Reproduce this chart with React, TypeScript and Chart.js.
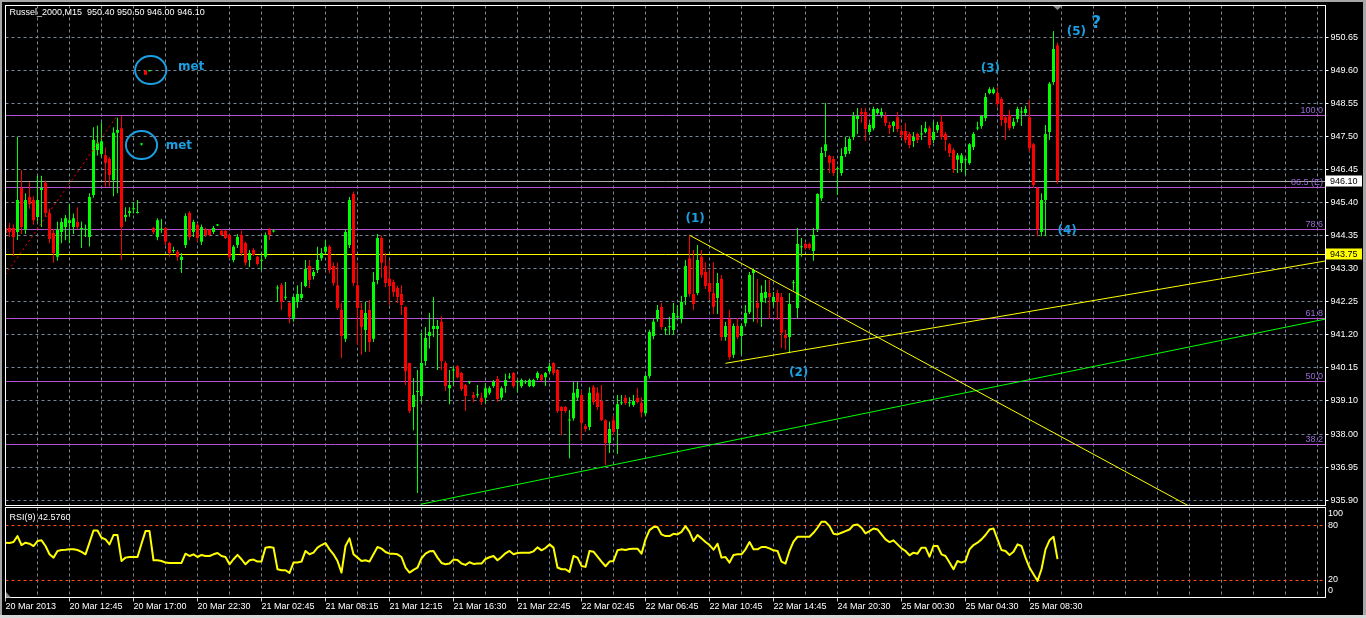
import React, { useEffect, useRef } from "react";
import { Chart, registerables } from "chart.js";

Chart.register(...registerables);

// ---------------- data ----------------
const SYMBOL = "Russel_2000,M15";

const TIME_LABELS = [
  "20 Mar 2013", "20 Mar 12:45", "20 Mar 17:00", "20 Mar 22:30", "21 Mar 02:45",
  "21 Mar 08:15", "21 Mar 12:15", "21 Mar 16:30", "21 Mar 22:45", "22 Mar 02:45",
  "22 Mar 06:45", "22 Mar 10:45", "22 Mar 14:45", "24 Mar 20:30", "25 Mar 00:30",
  "25 Mar 04:30", "25 Mar 08:30",
];

const OPEN = [
  944.59, 944.59, 944.59, 944.46, 945.86, 944.53, 945.58, 945.48, 944.94, 945.80,
  946.02, 945.07, 944.43, 943.67, 944.46, 944.62, 944.75, 944.62, 944.78, 944.56,
  944.53, 944.30, 945.64, 947.07, 946.95, 946.91, 946.79, 946.12, 947.62, 947.77,
  944.94, 945.07, 945.19, 945.07, 947.25, 949.60, 949.58, 944.59, 944.30, 944.53,
  944.59, 944.11, 943.86, 943.83, 943.57, 944.05, 945.07, 944.46, 944.69, 944.15,
  944.53, 944.53, 944.46, 944.67, 944.50, 944.50, 944.37, 943.57, 944.05, 944.37,
  944.11, 943.57, 943.89, 943.67, 943.55, 943.67, 944.53, 944.48, 942.66, 942.77,
  942.37, 942.20, 941.69, 942.23, 942.36, 942.74, 943.38, 943.06, 943.25, 943.63,
  943.83, 943.99, 943.38, 942.77, 941.98, 941.06, 944.05, 945.67, 942.77, 941.98,
  941.34, 941.98, 941.06, 942.93, 944.27, 943.38, 942.97, 942.87, 942.68, 942.49,
  942.07, 940.29, 938.89, 939.37, 939.24, 940.35, 941.15, 941.37, 941.37, 941.60,
  940.29, 939.49, 940.05, 940.19, 939.97, 939.59, 939.67, 939.27, 939.26, 939.18,
  939.18, 939.34, 939.56, 939.78, 939.18, 939.56, 939.83, 939.97, 939.68, 939.56,
  939.68, 939.56, 939.56, 939.81, 939.91, 939.84, 940.03, 940.29, 940.07, 938.89,
  938.89, 938.46, 938.53, 939.18, 939.27, 938.28, 938.25, 939.52, 939.34, 939.08,
  938.47, 937.74, 938.47, 938.19, 939.01, 939.18, 939.01, 938.95, 939.18, 939.02,
  938.69, 939.88, 941.15, 941.69, 942.07, 941.33, 941.43, 941.34, 941.75, 941.69,
  942.39, 943.63, 942.49, 942.52, 943.67, 943.19, 942.84, 942.52, 942.36, 942.97,
  941.12, 941.69, 940.55, 941.47, 941.15, 941.56, 941.91, 943.16, 942.20, 942.23,
  942.36, 942.52, 942.23, 942.52, 942.39, 941.18, 941.12, 942.83, 942.04, 943.98,
  944.08, 944.08, 943.86, 944.56, 945.54, 947.04, 946.88, 946.79, 946.46, 946.34,
  946.94, 947.04, 947.49, 948.06, 948.28, 948.28, 947.65, 947.77, 948.25, 948.19,
  948.16, 947.87, 947.84, 948.12, 947.68, 947.68, 947.58, 947.36, 947.58, 947.57,
  947.65, 947.77, 947.39, 947.71, 947.97, 947.58, 947.26, 947.07, 946.76, 946.66,
  946.75, 946.66, 947.17, 947.76, 947.84, 948.09, 948.89, 948.89, 948.89, 948.70,
  948.12, 948.19, 947.84, 948.06, 948.27, 948.25, 948.12, 947.26, 945.86, 944.46,
  945.48, 947.65, 949.24, 950.40,
];

const HIGH = [
  945.07, 944.75, 944.70, 947.49, 946.44, 945.70, 946.05, 945.60, 946.25, 946.25,
  946.10, 945.20, 944.55, 944.80, 944.90, 945.00, 945.35, 945.05, 945.25, 944.80,
  944.70, 945.70, 947.80, 947.85, 947.95, 947.15, 946.85, 947.80, 948.10, 948.16,
  945.25, 945.25, 945.40, 945.48, 947.30, 949.62, 949.61, 944.62, 944.90, 944.88,
  944.62, 944.15, 943.99, 943.89, 943.79, 945.05, 945.12, 944.85, 944.75, 944.70,
  944.60, 944.55, 944.65, 944.72, 944.55, 944.52, 944.40, 944.05, 944.40, 944.50,
  944.15, 943.89, 943.95, 943.70, 943.79, 944.45, 944.59, 944.53, 942.77, 942.84,
  942.87, 942.23, 942.45, 942.77, 942.87, 943.57, 943.57, 943.25, 943.99, 943.95,
  944.21, 944.05, 943.48, 943.48, 942.20, 944.55, 945.58, 945.75, 943.48, 942.20,
  942.23, 942.30, 943.19, 944.40, 944.35, 943.79, 943.57, 942.95, 942.75, 942.77,
  942.10, 940.30, 939.81, 940.07, 941.25, 941.44, 941.88, 942.39, 941.66, 941.78,
  940.35, 940.07, 940.17, 940.22, 940.00, 939.62, 939.72, 939.37, 939.59, 939.34,
  939.65, 939.55, 939.75, 939.88, 939.55, 939.95, 939.97, 940.00, 939.75, 939.80,
  939.75, 939.80, 939.78, 940.03, 939.95, 940.00, 940.29, 940.32, 940.10, 938.92,
  938.92, 938.79, 939.69, 939.69, 939.43, 938.35, 939.52, 939.59, 939.52, 939.59,
  938.50, 938.43, 938.63, 939.27, 939.27, 939.27, 939.20, 939.27, 939.49, 939.20,
  939.92, 941.35, 941.70, 942.14, 942.20, 941.44, 941.76, 942.20, 942.14, 942.43,
  943.57, 944.35, 943.89, 944.05, 943.89, 943.50, 943.25, 943.50, 943.16, 943.09,
  941.60, 941.98, 941.55, 941.72, 941.55, 942.14, 943.19, 943.30, 942.97, 942.77,
  942.93, 942.93, 942.55, 942.62, 942.52, 941.34, 942.52, 942.93, 944.59, 944.27,
  944.15, 944.12, 944.59, 945.70, 947.17, 948.57, 946.92, 946.88, 946.56, 947.13,
  947.49, 947.50, 948.28, 948.41, 948.41, 948.41, 947.95, 948.45, 948.41, 948.41,
  948.28, 947.97, 948.00, 948.28, 947.84, 947.93, 947.65, 947.65, 947.62, 947.87,
  947.97, 947.84, 947.97, 947.97, 948.19, 947.65, 947.30, 947.13, 946.98, 946.98,
  946.85, 947.30, 947.65, 947.97, 948.19, 948.89, 949.07, 949.07, 949.07, 948.76,
  948.19, 948.35, 948.09, 948.45, 948.44, 948.48, 948.67, 947.30, 945.90, 945.70,
  947.87, 949.24, 950.86, 950.50,
];

const LOW = [
  944.21, 944.30, 943.70, 944.21, 944.40, 944.40, 945.20, 944.70, 944.80, 944.62,
  944.95, 944.10, 943.48, 943.55, 944.10, 944.20, 944.10, 944.40, 944.55, 943.95,
  944.30, 944.00, 945.55, 946.90, 946.85, 945.90, 945.90, 945.60, 945.70, 943.57,
  944.80, 944.95, 945.05, 945.05, 947.22, 949.47, 949.58, 944.40, 944.20, 944.43,
  944.05, 943.67, 943.79, 943.55, 943.16, 943.95, 944.20, 944.30, 944.15, 944.05,
  944.30, 944.33, 944.40, 944.65, 944.33, 944.24, 943.60, 943.50, 943.95, 943.70,
  943.40, 943.35, 943.70, 943.40, 943.25, 943.60, 944.21, 944.45, 942.23, 941.98,
  942.30, 941.56, 941.60, 942.04, 942.30, 942.70, 942.68, 942.95, 943.16, 943.55,
  943.75, 943.15, 942.75, 941.98, 940.45, 940.96, 943.95, 942.75, 940.86, 940.55,
  940.65, 940.65, 940.96, 942.80, 943.00, 942.70, 942.14, 942.40, 942.20, 941.82,
  939.59, 938.69, 938.15, 936.15, 939.05, 940.20, 940.75, 941.12, 940.07, 940.07,
  939.40, 938.98, 939.59, 939.80, 939.40, 938.76, 939.62, 939.05, 939.18, 938.95,
  939.02, 939.28, 939.50, 939.05, 939.10, 939.34, 939.78, 939.50, 939.34, 939.50,
  939.62, 939.52, 939.52, 939.75, 939.70, 939.56, 939.97, 939.90, 938.70, 937.99,
  938.70, 937.26, 938.45, 939.10, 937.84, 938.10, 938.15, 938.95, 938.80, 938.45,
  937.04, 937.42, 938.00, 937.39, 938.95, 938.95, 938.90, 938.90, 939.00, 938.56,
  938.60, 939.80, 941.05, 941.60, 941.35, 941.18, 941.18, 941.18, 941.70, 941.56,
  942.14, 942.40, 941.98, 942.45, 943.00, 942.65, 942.30, 941.85, 941.85, 941.00,
  941.00, 940.39, 940.45, 941.05, 940.55, 941.45, 941.85, 941.60, 941.56, 941.44,
  942.20, 941.69, 942.10, 941.66, 940.77, 940.71, 940.60, 942.60, 941.72, 943.67,
  943.90, 943.90, 943.55, 944.46, 945.45, 946.85, 946.34, 946.25, 945.64, 946.25,
  946.85, 946.95, 947.39, 947.58, 947.94, 947.36, 947.55, 947.70, 948.20, 948.10,
  947.84, 947.58, 947.65, 947.65, 947.45, 947.30, 947.13, 947.17, 947.30, 947.39,
  947.60, 947.13, 947.30, 947.62, 947.40, 947.04, 946.85, 946.34, 946.34, 946.37,
  946.28, 946.60, 947.07, 947.70, 947.75, 948.00, 948.85, 948.85, 948.45, 947.84,
  947.39, 947.70, 947.75, 947.95, 947.84, 948.15, 947.00, 945.86, 944.33, 944.33,
  944.33, 947.39, 949.15, 946.00,
];

const CLOSE = [
  944.43, 944.46, 944.30, 945.48, 944.62, 945.48, 945.35, 944.84, 945.48, 945.86,
  945.07, 944.24, 943.79, 944.53, 944.78, 944.90, 944.84, 944.90, 944.62, 944.59,
  944.56, 945.58, 947.39, 947.29, 947.35, 946.66, 946.28, 947.62, 947.71, 944.62,
  945.00, 945.12, 945.22, 945.09, 947.27, 949.47, 949.60, 944.46, 944.84, 944.56,
  944.15, 943.79, 943.89, 943.67, 943.67, 944.97, 944.30, 944.78, 944.27, 944.62,
  944.37, 944.37, 944.59, 944.69, 944.37, 944.27, 943.67, 943.99, 944.30, 943.79,
  943.48, 943.79, 943.73, 943.44, 943.57, 944.37, 944.37, 944.50, 942.68, 942.23,
  942.39, 941.76, 942.39, 942.49, 942.49, 943.28, 942.93, 943.19, 943.57, 943.79,
  943.99, 943.25, 942.84, 942.04, 941.15, 944.46, 945.48, 942.84, 942.04, 941.44,
  941.88, 940.96, 942.87, 944.27, 943.48, 942.84, 942.74, 942.55, 942.39, 942.14,
  940.03, 938.76, 939.27, 939.40, 940.29, 941.09, 941.28, 941.47, 941.47, 940.35,
  939.56, 939.59, 940.07, 939.84, 939.46, 939.24, 939.69, 939.18, 939.28, 939.05,
  939.49, 939.49, 939.69, 939.14, 939.49, 939.75, 939.85, 939.56, 939.70, 939.75,
  939.70, 939.75, 939.75, 939.97, 939.75, 939.97, 940.19, 939.97, 938.76, 938.76,
  938.76, 938.48, 939.34, 939.46, 938.38, 938.19, 939.34, 939.05, 938.89, 938.47,
  937.74, 938.19, 938.09, 938.98, 939.03, 939.02, 939.03, 939.08, 939.05, 938.72,
  939.88, 941.28, 941.60, 941.98, 941.44, 941.35, 941.45, 941.88, 941.77, 942.23,
  943.38, 942.49, 942.17, 943.57, 943.09, 942.74, 942.55, 942.07, 942.84, 941.12,
  941.47, 940.48, 941.47, 941.12, 941.47, 941.88, 943.09, 943.25, 942.04, 942.52,
  942.55, 942.39, 942.39, 942.23, 941.25, 941.09, 942.17, 942.85, 944.08, 944.00,
  943.95, 943.95, 944.37, 945.67, 946.98, 947.26, 946.66, 946.34, 946.48, 946.88,
  947.17, 947.42, 948.16, 948.16, 948.22, 947.74, 947.87, 948.38, 948.38, 948.28,
  947.93, 947.77, 947.97, 947.74, 947.55, 947.39, 947.23, 947.49, 947.39, 947.59,
  947.77, 947.23, 947.65, 947.87, 947.49, 947.39, 946.98, 946.47, 946.91, 946.91,
  946.77, 947.26, 947.58, 947.78, 948.16, 948.76, 949.01, 949.01, 948.54, 948.03,
  947.93, 947.77, 947.97, 948.38, 948.29, 948.38, 947.13, 945.96, 944.56, 945.48,
  947.58, 949.18, 950.29, 946.10,
];

const RSI_PERIOD = 9;
const RSI = [
  60.9, 60.5, 61.6, 68.2, 58.3, 60.9, 59.8, 57.2, 62.7, 63.5,
  57.2, 48.0, 44.3, 51.7, 52.8, 53.1, 53.5, 53.5, 52.8, 50.6,
  48.0, 60.9, 74.5, 74.5, 66.4, 64.6, 59.0, 69.4, 69.4, 40.6,
  44.3, 45.0, 45.0, 45.0, 59.8, 73.8, 73.8, 41.4, 41.4, 40.6,
  38.8, 38.4, 38.4, 38.4, 38.4, 48.7, 46.1, 48.0, 45.0, 47.3,
  46.1, 46.1, 48.0, 49.5, 46.1, 45.0, 36.9, 42.5, 47.3, 42.5,
  36.9, 41.4, 42.1, 39.9, 39.9, 55.4, 56.1, 55.4, 31.4, 30.3,
  30.3, 27.4, 38.8, 38.8, 39.9, 51.7, 48.0, 49.8, 55.4, 58.3,
  60.5, 53.5, 48.0, 40.6, 27.7, 57.2, 65.7, 48.0, 44.3, 40.6,
  41.4, 39.9, 48.0, 56.1, 54.3, 50.6, 48.7, 48.7, 48.0, 45.0,
  33.3, 27.7, 30.7, 33.3, 43.6, 48.7, 51.3, 51.7, 44.3, 38.4,
  36.9, 37.7, 42.1, 41.7, 37.7, 36.2, 39.2, 37.3, 37.7, 37.7,
  42.8, 44.7, 46.1, 41.4, 45.0, 49.1, 51.7, 48.0, 49.5, 49.8,
  49.8, 49.8, 51.3, 55.7, 52.4, 55.0, 59.0, 55.4, 33.3, 31.4,
  31.4, 28.5, 46.1, 44.3, 35.1, 34.0, 51.7, 50.9, 45.4, 39.9,
  34.7, 39.9, 40.6, 52.4, 53.5, 52.8, 53.9, 54.3, 54.3, 48.7,
  64.6, 74.9, 78.2, 78.2, 70.1, 68.2, 68.2, 70.8, 70.1, 73.0,
  79.3, 73.0, 62.7, 69.4, 65.7, 61.6, 58.3, 53.1, 59.8, 44.3,
  45.0, 38.8, 47.3, 48.0, 48.0, 53.5, 61.6, 53.5, 53.5, 56.1,
  56.1, 54.6, 52.4, 51.7, 39.9, 37.7, 51.7, 62.0, 67.5, 67.5,
  67.5, 67.5, 71.9, 77.5, 84.1, 84.1, 79.3, 70.8, 70.1, 71.9,
  73.8, 75.6, 80.4, 81.1, 77.5, 71.2, 73.8, 76.7, 75.6, 70.1,
  64.6, 61.6, 63.5, 59.0, 54.6, 51.7, 46.9, 49.8, 48.7, 55.4,
  55.4, 45.4, 57.2, 57.2, 48.0, 46.1, 38.8, 31.4, 40.6, 38.8,
  40.6, 53.5, 58.3, 60.9, 64.6, 69.4, 75.6, 76.7, 64.6, 52.8,
  51.7, 47.3, 50.9, 59.0, 57.2, 44.3, 33.3, 25.9, 18.5, 31.4,
  53.5, 63.5, 67.5, 42.576,
];

const PRICE_TICKS = [
  950.65, 949.6, 948.55, 947.5, 946.45, 945.4, 944.35, 943.3, 942.25,
  941.2, 940.15, 939.1, 938.0, 936.95, 935.9,
];

// Fibonacci retracement (anchor prices) and its levels
const FIB_LOW = 931.26;
const FIB_HIGH = 948.18;
const FIB_LEVELS = [100.0, 86.5, 78.6, 61.8, 50.0, 38.2];
const FIB_TEXT = ["100.0", "86.5 (E)", "78.6", "61.8", "50.0", "38.2"];
const FIB_DIAG_BAR = [-65.5, 28];

const USER_LEVEL = 943.75;

// trend lines: bar index / price pairs
const DOWN_LINE_BAR = [171, 300];
const DOWN_LINE_PRICE = [944.36, 935.45];
const UP_LINE_BAR = [180, 330];
const UP_LINE_PRICE = [940.28, 943.54];
const GREEN_LINE_BAR = [103.8, 330];
const GREEN_LINE_PRICE = [935.79, 941.69];

// wave labels
const WAVE_TEXT = ["(1)", "(2)", "(3)", "(4)", "(5)", "?"];
const WAVE_BAR = [172.4, 198.3, 246.2, 265.4, 267.7, 272.7];
const WAVE_PRICE = [944.88, 939.97, 949.66, 944.51, 950.85, 951.1];

// "met" notes and rings
const NOTE_TEXT = ["met", "met"];
const NOTE_BAR = [43.1, 40.05];
const NOTE_PRICE = [949.73, 947.22];
const RING_BAR = [36.3, 34.0];
const RING_PRICE = [949.62, 947.23];

const RSI_LEVELS = [20, 80];
const RSI_SCALE_LABELS = [100, 80, 20, 0];

// ---------------- axis + style constants ----------------
const X_MAX = 330;
const GRID_EVERY = 8;
const LABEL_EVERY = 16;
const Y_MIN = 935.752;
const Y_MAX = 951.6755;
const RING_RX = 3.9; // in bars
const RING_RY = 0.446; // in price

const UP = "#00ff00";
const DOWN = "#ff0000";
const GRID = "#778899";
const YELLOW = "#ffff00";
const CYAN = "#1c9fe0";
const FIB_LINE = "#b450d2";
const FIB_LABEL = "#9a6ad8";
const BID_GRAY = "#a8a8a8";
const LEVEL_RED = "#ff4a14";
const FONT = '"Liberation Sans", Arial, sans-serif';

const N = CLOSE.length;
const seg = (xs: number[], ys: number[]) => xs.map((x, i) => ({ x, y: ys[i] }));
const fibPrice = (lvl: number) => FIB_LOW + (lvl / 100) * (FIB_HIGH - FIB_LOW);
const gridTicks = () => {
  const t: any[] = [];
  for (let v = 0; v < X_MAX; v += GRID_EVERY) t.push({ value: v });
  return t;
};

const mainDecor = {
  id: "mainDecor",
  beforeDatasetsDraw(chart: any) {
    const { ctx, chartArea: a, scales } = chart;
    const y = scales.y;
    ctx.save();
    ctx.beginPath();
    ctx.rect(a.left, a.top, a.right - a.left, a.bottom - a.top);
    ctx.clip();
    const hline = (p: number, color: string) => {
      const py = Math.round(y.getPixelForValue(p)) + 0.5;
      ctx.strokeStyle = color;
      ctx.lineWidth = 1;
      ctx.beginPath();
      ctx.moveTo(a.left, py);
      ctx.lineTo(a.right, py);
      ctx.stroke();
    };
    FIB_LEVELS.forEach((l) => hline(fibPrice(l), FIB_LINE));
    hline(USER_LEVEL, YELLOW);
    hline(CLOSE[N - 1], BID_GRAY);
    ctx.restore();
  },
  afterDraw(chart: any) {
    const { ctx, chartArea: a, scales } = chart;
    const x = scales.x;
    const y = scales.y;
    ctx.save();
    // panel frame
    ctx.strokeStyle = "#ffffff";
    ctx.lineWidth = 1;
    ctx.strokeRect(a.left, a.top, a.right - a.left, a.bottom - a.top);

    // title
    ctx.font = `9px ${FONT}`;
    ctx.fillStyle = "#ffffff";
    ctx.textBaseline = "middle";
    ctx.textAlign = "left";
    const f = (v: number) => v.toFixed(2);
    ctx.fillText(
      `${SYMBOL}  ${f(OPEN[N - 1])} ${f(HIGH[N - 1])} ${f(LOW[N - 1])} ${f(CLOSE[N - 1])}`,
      a.left + 4,
      a.top + 7.5
    );

    // fib labels
    ctx.fillStyle = FIB_LABEL;
    ctx.textAlign = "right";
    ctx.textBaseline = "bottom";
    FIB_LEVELS.forEach((l, i) => {
      const py = Math.round(y.getPixelForValue(fibPrice(l)));
      ctx.fillText(FIB_TEXT[i], a.right - 2.5, py);
    });

    // rings
    ctx.strokeStyle = CYAN;
    ctx.lineWidth = 2;
    RING_BAR.forEach((b, i) => {
      const cx = x.getPixelForValue(b);
      const cy = y.getPixelForValue(RING_PRICE[i]);
      const rx = Math.abs(x.getPixelForValue(b + RING_RX) - cx);
      const ry = Math.abs(y.getPixelForValue(RING_PRICE[i] + RING_RY) - cy);
      ctx.beginPath();
      ctx.ellipse(cx, cy, rx, ry, 0, 0, Math.PI * 2);
      ctx.stroke();
    });

    // notes
    ctx.fillStyle = CYAN;
    ctx.textAlign = "left";
    ctx.textBaseline = "middle";
    ctx.font = `bold 12px "DejaVu Sans", sans-serif`;
    NOTE_TEXT.forEach((t, i) => {
      ctx.fillText(t, x.getPixelForValue(NOTE_BAR[i]), y.getPixelForValue(NOTE_PRICE[i]));
    });

    // wave labels
    ctx.textAlign = "center";
    WAVE_TEXT.forEach((t, i) => {
      ctx.font = t === "?" ? `bold 17px "DejaVu Sans", sans-serif` : `bold 12px "DejaVu Sans", sans-serif`;
      ctx.fillText(t, x.getPixelForValue(WAVE_BAR[i]), y.getPixelForValue(WAVE_PRICE[i]));
    });

    // price boxes on right axis
    ctx.font = `9px ${FONT}`;
    ctx.textAlign = "left";
    const box = (p: number, bg: string) => {
      const py = y.getPixelForValue(p);
      ctx.fillStyle = bg;
      ctx.fillRect(a.right + 0.5, Math.round(py) - 5.5, 36, 11);
      ctx.fillStyle = "#000000";
      ctx.fillText(p.toFixed(2), a.right + 4.5, py + 0.5);
    };
    box(CLOSE[N - 1], "#ffffff");
    box(USER_LEVEL, YELLOW);

    // chart shift marker
    const sx = x.getPixelForValue(N - 1);
    ctx.fillStyle = "#8a8a8a";
    ctx.beginPath();
    ctx.moveTo(sx - 4.5, a.top + 0.5);
    ctx.lineTo(sx + 4.5, a.top + 0.5);
    ctx.lineTo(sx, a.top + 4.5);
    ctx.closePath();
    ctx.fill();
    ctx.restore();
  },
};

const rsiDecor = {
  id: "rsiDecor",
  beforeDatasetsDraw(chart: any) {
    const { ctx, chartArea: a, scales } = chart;
    const y = scales.y;
    ctx.save();
    ctx.strokeStyle = LEVEL_RED;
    ctx.lineWidth = 1;
    ctx.setLineDash([3, 3]);
    RSI_LEVELS.forEach((v) => {
      const py = Math.round(y.getPixelForValue(v)) + 0.5;
      ctx.beginPath();
      ctx.moveTo(a.left, py);
      ctx.lineTo(a.right, py);
      ctx.stroke();
    });
    ctx.restore();
  },
  afterDraw(chart: any) {
    const { ctx, chartArea: a, scales } = chart;
    const y = scales.y;
    ctx.save();
    ctx.strokeStyle = "#ffffff";
    ctx.lineWidth = 1;
    ctx.strokeRect(a.left, a.top, a.right - a.left, a.bottom - a.top);

    ctx.font = `9px ${FONT}`;
    ctx.fillStyle = "#ffffff";
    ctx.textBaseline = "middle";
    ctx.textAlign = "left";
    ctx.fillText(`RSI(${RSI_PERIOD}) ${RSI[N - 1].toFixed(4)}`, a.left + 4, a.top + 10);

    RSI_SCALE_LABELS.forEach((v) => {
      let py = y.getPixelForValue(v);
      if (v === 100) py += 6;
      if (v === 0) py -= 6.5;
      ctx.fillText(String(v), a.right + 2.5, py);
    });

    ctx.fillStyle = "#8a8a8a";
    ctx.beginPath();
    ctx.moveTo(a.left + 0.5, a.bottom);
    ctx.lineTo(a.left + 0.5, a.bottom - 5.5);
    ctx.lineTo(a.left + 5.5, a.bottom);
    ctx.closePath();
    ctx.fill();
    ctx.restore();
  },
};

function xGridColor(c: any) {
  return c.tick && c.tick.value === 0 ? "rgba(0,0,0,0)" : GRID;
}

function buildMain(canvas: HTMLCanvasElement) {
  const idx = CLOSE.map((_, i) => i);
  const colors = idx.map((i) => (CLOSE[i] >= OPEN[i] ? UP : DOWN));
  const wicks = idx.map((i) => ({ x: i, y: [LOW[i], HIGH[i]] }));
  const bodies = idx.map((i) => ({ x: i, y: [OPEN[i], CLOSE[i]] }));
  const lineBase = { type: "line", borderWidth: 1, pointRadius: 0, tension: 0, fill: false, order: 0 };
  return new Chart(canvas, {
    type: "bar",
    data: {
      datasets: [
        { ...lineBase, data: seg(DOWN_LINE_BAR, DOWN_LINE_PRICE), borderColor: YELLOW },
        { ...lineBase, data: seg(UP_LINE_BAR, UP_LINE_PRICE), borderColor: YELLOW },
        { ...lineBase, data: seg(GREEN_LINE_BAR, GREEN_LINE_PRICE), borderColor: UP },
        { ...lineBase, data: seg(FIB_DIAG_BAR, [FIB_LOW, FIB_HIGH]), borderColor: DOWN, borderDash: [2, 3] },
        {
          type: "bar", data: bodies, backgroundColor: colors, barThickness: 3, grouped: false,
          borderWidth: 0, inflateAmount: 0, minBarLength: 1, order: 1,
        },
        {
          type: "bar", data: wicks, backgroundColor: colors, barThickness: 1, grouped: false,
          borderWidth: 0, inflateAmount: 0, minBarLength: 1, order: 2,
        },
      ] as any,
    },
    options: {
      responsive: false,
      animation: false,
      devicePixelRatio: 1,
      events: [],
      layout: { padding: { left: 5.5, top: 5.5, right: 0, bottom: 1.5 } },
      plugins: { legend: { display: false }, tooltip: { enabled: false } },
      scales: {
        x: {
          type: "linear",
          min: 0,
          max: X_MAX,
          offset: false,
          afterBuildTicks: (s: any) => { s.ticks = gridTicks(); },
          afterFit: (s: any) => { s.height = 0; s.paddingLeft = 0; s.paddingRight = 0; },
          ticks: { display: false },
          grid: { color: xGridColor, drawTicks: false, offset: false, lineWidth: 1 },
          border: { display: false, dash: [3, 3] },
        },
        y: {
          position: "right",
          min: Y_MIN,
          max: Y_MAX,
          afterBuildTicks: (s: any) => { s.ticks = PRICE_TICKS.map((v) => ({ value: v })); },
          afterFit: (s: any) => { s.width = 40.5; s.paddingTop = 0; s.paddingBottom = 0; },
          ticks: {
            color: "#ffffff",
            font: { family: FONT, size: 9 },
            padding: 2,
            autoSkip: false,
            callback: (v: any) => Number(v).toFixed(2),
          },
          grid: { color: GRID, tickColor: "#ffffff", tickLength: 3, lineWidth: 1 },
          border: { display: false, dash: [3, 3] },
        },
      },
    } as any,
    plugins: [mainDecor],
  } as any);
}

function buildRsi(canvas: HTMLCanvasElement) {
  return new Chart(canvas, {
    type: "line",
    data: {
      datasets: [
        {
          data: RSI.map((v, i) => ({ x: i, y: v })),
          borderColor: YELLOW,
          borderWidth: 2,
          pointRadius: 0,
          tension: 0,
          fill: false,
          borderJoinStyle: "round",
        },
      ] as any,
    },
    options: {
      responsive: false,
      animation: false,
      devicePixelRatio: 1,
      events: [],
      layout: { padding: { left: 5.5, top: 0.5, right: 0, bottom: 0 } },
      plugins: { legend: { display: false }, tooltip: { enabled: false } },
      scales: {
        x: {
          type: "linear",
          min: 0,
          max: X_MAX,
          offset: false,
          afterBuildTicks: (s: any) => { s.ticks = gridTicks(); },
          afterFit: (s: any) => { s.height = 20.5; s.paddingLeft = 0; s.paddingRight = 0; },
          ticks: {
            color: "#ffffff",
            font: { family: FONT, size: 9 },
            padding: 0,
            align: "start",
            autoSkip: false,
            maxRotation: 0,
            minRotation: 0,
            callback: (v: any) =>
              v % LABEL_EVERY === 0 ? TIME_LABELS[v / LABEL_EVERY] ?? "" : "",
          },
          grid: {
            color: xGridColor,
            offset: false,
            tickLength: 4,
            tickColor: (c: any) =>
              c.tick && c.tick.value % LABEL_EVERY === 0 && TIME_LABELS[c.tick.value / LABEL_EVERY] !== undefined
                ? "#c8c8c8"
                : "rgba(0,0,0,0)",
          },
          border: { display: false, dash: [3, 3] },
        },
        y: {
          position: "right",
          min: 0,
          max: 100,
          afterFit: (s: any) => { s.width = 40.5; s.paddingTop = 0; s.paddingBottom = 0; },
          ticks: { display: false },
          grid: { display: false },
          border: { display: false },
        },
      },
    } as any,
    plugins: [rsiDecor],
  } as any);
}

export default function App() {
  const mainRef = useRef<HTMLCanvasElement>(null);
  const rsiRef = useRef<HTMLCanvasElement>(null);

  useEffect(() => {
    document.body.style.margin = "0";
    document.body.style.background = "#000";
    const main = buildMain(mainRef.current as HTMLCanvasElement);
    const rsi = buildRsi(rsiRef.current as HTMLCanvasElement);
    return () => {
      main.destroy();
      rsi.destroy();
    };
  }, []);

  const edge = (s: any) => <div style={{ position: "absolute", ...s }} />;

  return (
    <div
      style={{
        position: "fixed",
        left: 0,
        top: 0,
        width: 1366,
        height: 618,
        background: "#000",
        overflow: "hidden",
      }}
    >
      <canvas ref={mainRef} width={1366} height={507} style={{ position: "absolute", left: 0, top: 0 }} />
      <canvas ref={rsiRef} width={1366} height={111} style={{ position: "absolute", left: 0, top: 507 }} />
      {edge({ left: 0, top: 0, width: 1366, height: 2, background: "#a6a6a6" })}
      {edge({ left: 0, top: 0, width: 2, height: 618, background: "#a6a6a6" })}
      {edge({ left: 1363, top: 0, width: 3, height: 618, background: "#a6a6a6" })}
      {edge({ left: 0, top: 615, width: 1366, height: 3, background: "#d8d8d8" })}
    </div>
  );
}
